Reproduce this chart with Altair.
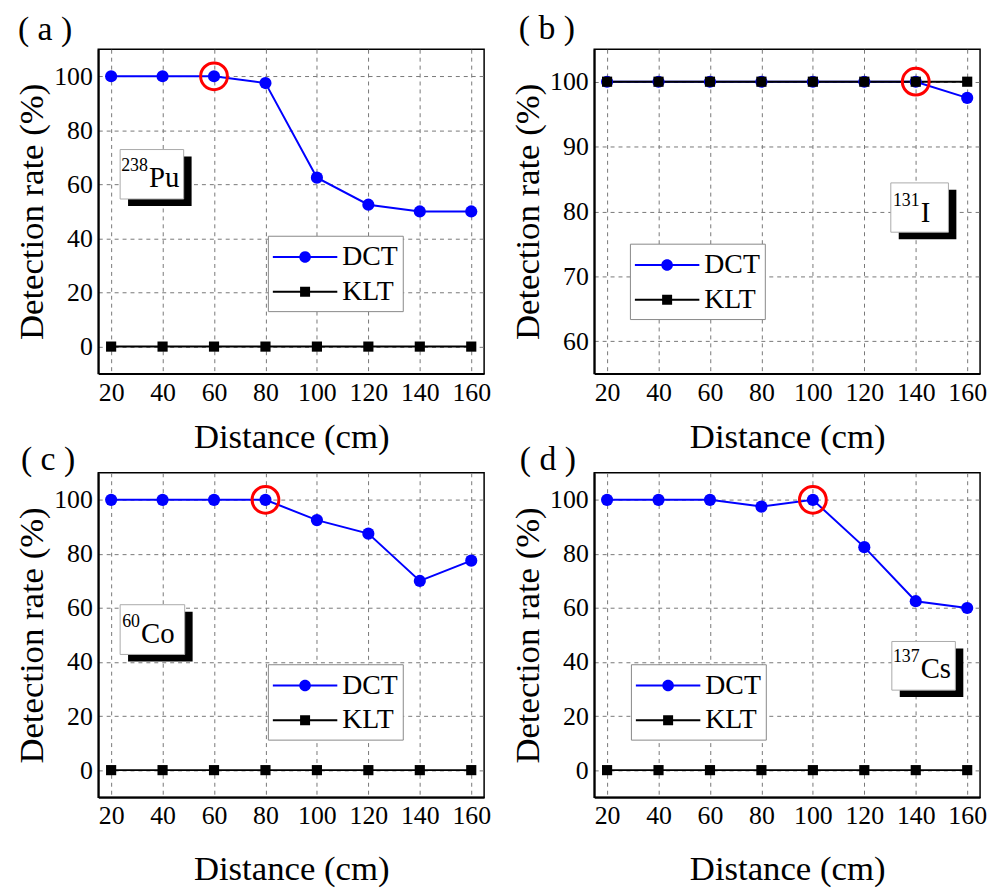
import altair as alt
import pandas as pd

FONT = "Liberation Serif, Times New Roman, serif"

distance = [20, 40, 60, 80, 100, 120, 140, 160]
methods = ["DCT", "KLT"]

dct_a = [100, 100, 100, 97.5, 62.5, 52.5, 50, 50]
klt_a = [0, 0, 0, 0, 0, 0, 0, 0]
dct_b = [100, 100, 100, 100, 100, 100, 100, 97.5]
klt_b = [100, 100, 100, 100, 100, 100, 100, 100]
dct_c = [100, 100, 100, 100, 92.5, 87.5, 70, 77.5]
klt_c = [0, 0, 0, 0, 0, 0, 0, 0]
dct_d = [100, 100, 100, 97.5, 100, 82.5, 62.5, 60]
klt_d = [0, 0, 0, 0, 0, 0, 0, 0]

dct_series = [dct_a, dct_b, dct_c, dct_d]
klt_series = [klt_a, klt_b, klt_c, klt_d]

panel_letters = ["( a )", "( b )", "( c )", "( d )"]
isotope_mass = ["238", "131", "60", "137"]
isotope_symbol = ["Pu", "I", "Co", "Cs"]
marked_distance = [60, 140, 80, 100]

x_ticks = [20, 40, 60, 80, 100, 120, 140, 160]
x_domain = [15, 165]
y_domains = [[-10, 110], [55, 105], [-10, 110], [-10, 110]]
y_ticks = [[0, 20, 40, 60, 80, 100], [60, 70, 80, 90, 100],
           [0, 20, 40, 60, 80, 100], [0, 20, 40, 60, 80, 100]]

# isotope label box (data units): x, x2, y, y2, and text anchor x, baseline y
box_x = [23.5, 130.3, 23.5, 130.7]
box_x2 = [48.2, 152.7, 48.6, 155.4]
box_y = [72.9, 84.4, 61.2, 47.6]
box_y2 = [54.6, 76.8, 42.8, 29.6]
lab_x = [34.7, 141.9, 31.6, 141.9]
lab_y = [59.0, 78.4, 46.9, 34.0]

# legend placement (pixels relative to plot area)
legend_x = [171, 36, 171, 37]
legend_y = [188, 196, 193, 193]

# panel letter placement (pixels relative to plot area)
letter_dx = [-81, -76, -78, -75]
letter_dy = [-9, -10, -3, -3]
x_title_pad = [14, 14, 23, 23]

# legend symbols: line with marker; path spans [-2, 2] around the symbol centre
DCT_PATH = ("M-2,-0.062L2,-0.062L2,0.062L-2,0.062Z"
            "M0.36,0A0.36,0.36,0,1,1,-0.36,0A0.36,0.36,0,1,1,0.36,0Z")
KLT_PATH = ("M-2,-0.062L2,-0.062L2,0.062L-2,0.062Z"
            "M-0.31,-0.31L0.31,-0.31L0.31,0.31L-0.31,0.31Z")


def panel(i):
    df = pd.DataFrame({
        "Distance": distance + distance,
        "Rate": dct_series[i] + klt_series[i],
        "Method": ["DCT"] * len(distance) + ["KLT"] * len(distance),
    })
    mark_df = pd.DataFrame({
        "Distance": [marked_distance[i]],
        "Rate": [dct_series[i][distance.index(marked_distance[i])]],
    })
    box_df = pd.DataFrame({
        "bx": [box_x[i]], "bx2": [box_x2[i]], "by": [box_y[i]], "by2": [box_y2[i]],
        "lx": [lab_x[i]], "ly": [lab_y[i]],
        "mass": [isotope_mass[i]], "sym": [isotope_symbol[i]],
    })
    letter_df = pd.DataFrame({"letter": [panel_letters[i]]})

    xscale = alt.Scale(domain=x_domain, nice=False, zero=False)
    yscale = alt.Scale(domain=y_domains[i], nice=False, zero=False)
    axis_style = dict(labelFont=FONT, labelFontSize=26, labelColor="black", labelPadding=6,
                      titleFont=FONT, titleFontSize=35, titleFontWeight="normal",
                      titleColor="black", domainColor="black", domainWidth=2, ticks=False,
                      grid=True, gridColor="#777777", gridDash=[4, 4], gridWidth=1)
    xenc = alt.X("Distance:Q", scale=xscale,
                 axis=alt.Axis(values=x_ticks, title="Distance (cm)",
                               titlePadding=x_title_pad[i], **axis_style))
    yenc = alt.Y("Rate:Q", scale=yscale,
                 axis=alt.Axis(values=y_ticks[i], title="Detection rate (%)",
                               titlePadding=4, **axis_style))

    legend = alt.Legend(
        title=None, orient="none", legendX=legend_x[i], legendY=legend_y[i],
        labelFont=FONT, labelFontSize=28, labelColor="black",
        symbolSize=1056, symbolOffset=16, labelOffset=21,
        rowPadding=4, padding=5, strokeColor="#888888",
        fillColor="white", symbolStrokeWidth=0, symbolOpacity=1,
    )
    color = alt.Color("Method:N",
                      scale=alt.Scale(domain=methods, range=["#0000ff", "#000000"]),
                      legend=legend)
    shape = alt.Shape("Method:N",
                      scale=alt.Scale(domain=methods, range=[DCT_PATH, KLT_PATH]),
                      legend=legend)

    base = alt.Chart(df)
    dct_line = base.transform_filter(alt.datum.Method == "DCT").mark_line(
        strokeWidth=2, color="#0000ff").encode(x=xenc, y=yenc)
    klt_line = base.transform_filter(alt.datum.Method == "KLT").mark_line(
        strokeWidth=2, color="#000000").encode(x="Distance:Q", y="Rate:Q")
    dct_pts = base.transform_filter(alt.datum.Method == "DCT").mark_point(
        shape="circle", filled=True, size=150, opacity=1, color="#0000ff"
    ).encode(x="Distance:Q", y="Rate:Q")
    klt_pts = base.transform_filter(alt.datum.Method == "KLT").mark_point(
        shape="square", filled=True, size=105, opacity=1, color="#000000"
    ).encode(x="Distance:Q", y="Rate:Q")
    legend_layer = base.transform_filter("false").mark_point(
        filled=True, opacity=1
    ).encode(x="Distance:Q", y="Rate:Q", color=color, shape=shape)
    ring = alt.Chart(mark_df).mark_point(
        shape="circle", filled=False, size=729, stroke="#ff0000", strokeWidth=3, opacity=1
    ).encode(x="Distance:Q", y="Rate:Q")

    bchart = alt.Chart(box_df)
    shadow = bchart.mark_rect(color="black", xOffset=8, x2Offset=8, yOffset=7, y2Offset=7).encode(
        x="bx:Q", x2="bx2:Q", y="by:Q", y2="by2:Q")
    box = bchart.mark_rect(fill="white", stroke="#aaaaaa", strokeWidth=1).encode(
        x="bx:Q", x2="bx2:Q", y="by:Q", y2="by2:Q")
    mass = bchart.mark_text(font=FONT, fontSize=18, align="right", baseline="alphabetic",
                            dy=-16, dx=-1, color="black").encode(
        x="lx:Q", y="ly:Q", text="mass:N")
    sym = bchart.mark_text(font=FONT, fontSize=29, align="left", baseline="alphabetic",
                           color="black").encode(
        x="lx:Q", y="ly:Q", text="sym:N")

    letter = alt.Chart(letter_df).mark_text(
        font=FONT, fontSize=34, align="left", baseline="alphabetic", color="black"
    ).encode(x=alt.value(letter_dx[i]), y=alt.value(letter_dy[i]), text="letter:N")

    return alt.layer(dct_line, klt_line, dct_pts, klt_pts, legend_layer, ring,
                     shadow, box, mass, sym, letter).properties(width=389, height=327)


chart = alt.concat(
    panel(0), panel(1), panel(2), panel(3),
    columns=2, spacing={"row": 100, "column": 111}, bounds="flush",
).resolve_scale(
    x="independent", y="independent", color="independent", shape="independent"
).resolve_legend(
    color="independent", shape="independent"
).properties(
    padding={"left": 6, "top": 0, "right": 0, "bottom": 0}
).configure(
    font=FONT
).configure_view(
    stroke="black", strokeWidth=1.5
).configure_axis(
    labelFont=FONT, titleFont=FONT
).configure_legend(
    labelFont=FONT
)

chart.save("out.html", embed_options={"renderer": "svg", "actions": False})
